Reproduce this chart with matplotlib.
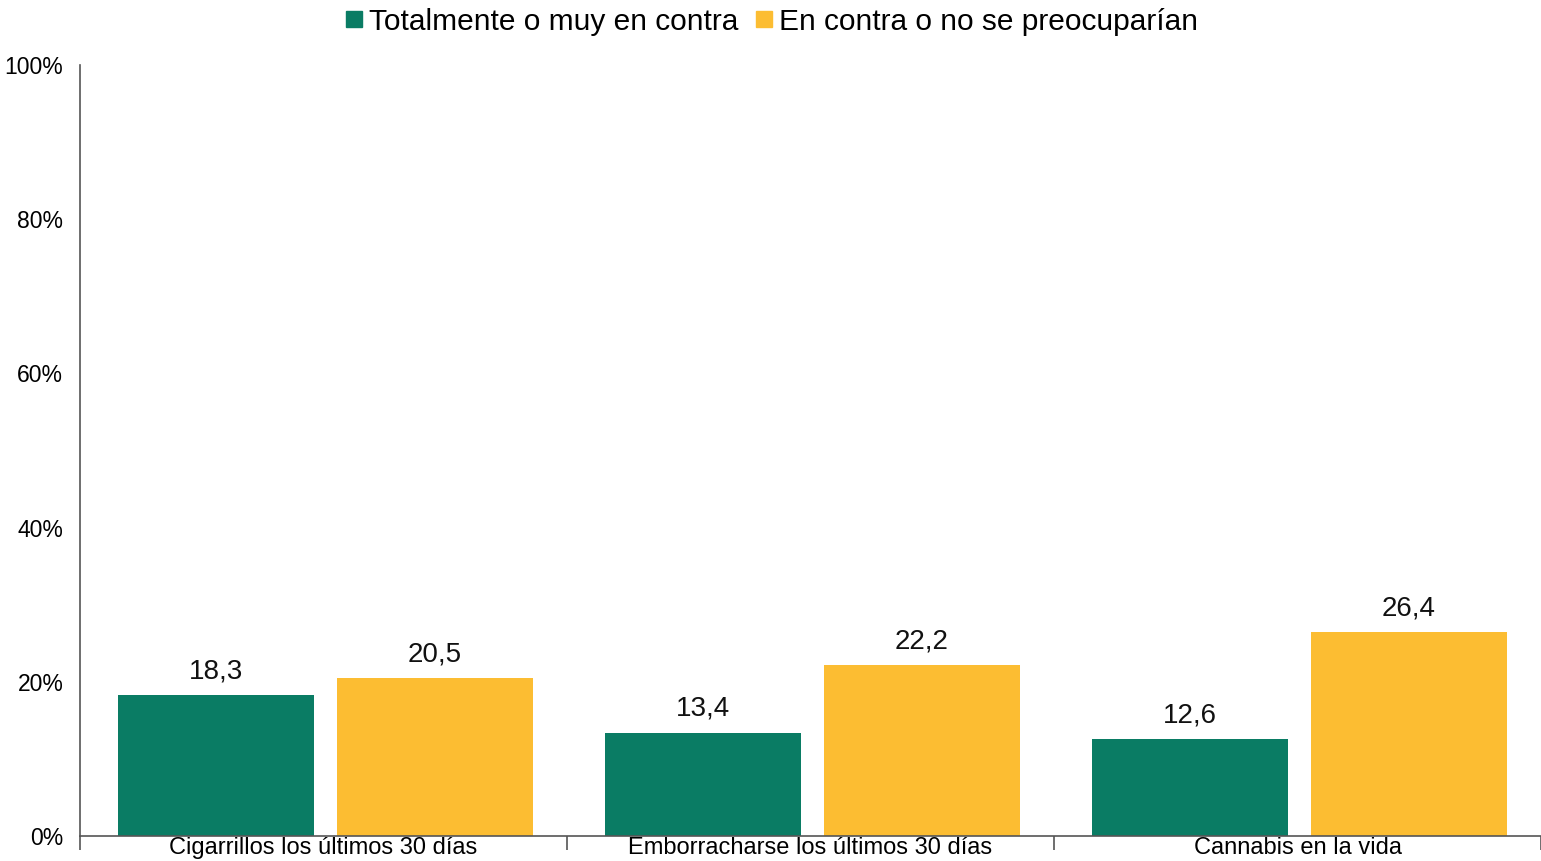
import matplotlib
matplotlib.use("Agg")
import matplotlib.pyplot as plt
from matplotlib.lines import Line2D
from matplotlib.ticker import FixedLocator, NullFormatter
import numpy as np

plt.rcParams['font.family'] = ['Liberation Sans', 'DejaVu Sans']

categories = ["Cigarrillos los últimos 30 días", "Emborracharse los últimos 30 días", "Cannabis en la vida"]
series_names = ["Totalmente o muy en contra", "En contra o no se preocuparían"]
green_vals = [18.3, 13.4, 12.6]
yellow_vals = [20.5, 22.2, 26.4]
yticks = [0, 20, 40, 60, 80, 100]
colors = ["#0a7c64", "#fcbd32"]

fig = plt.figure(figsize=(15.41, 8.61), dpi=100)
ax = fig.add_axes([80/1541, 1 - 836/861, 1461/1541, (836-65)/861])

x = np.arange(len(categories))
w = 0.4025
off = 0.2245
shift = 0.004
b1 = ax.bar(x - off + shift, green_vals, w, color=colors[0])
b2 = ax.bar(x + off + shift, yellow_vals, w, color=colors[1])

def fmt(v):
    return f"{v:.1f}".replace(".", ",")

for bars, vals in ((b1, green_vals), (b2, yellow_vals)):
    for r, v in zip(bars, vals):
        ax.text(r.get_x() + r.get_width()/2, v + 1.4, fmt(v), ha='center', va='bottom', fontsize=20, color='#111111')

ax.set_xlim(-0.5, 2.5)
ax.set_ylim(0, 100)
ax.set_yticks(yticks)
ax.set_yticklabels([f"{t}%" for t in yticks], fontsize=16.5)
ax.tick_params(axis='y', length=0, pad=12)
ax.set_xticks(x)
ax.set_xticklabels(categories, fontsize=17)
ax.tick_params(axis='x', which='major', length=0, pad=1)
ax.xaxis.set_minor_locator(FixedLocator([-0.5, 0.5, 1.5, 2.5]))
ax.xaxis.set_minor_formatter(NullFormatter())
ax.tick_params(axis='x', which='minor', length=10, width=1.2, color='#555555', direction='out')

for s in ['top', 'right']:
    ax.spines[s].set_visible(False)
ax.spines['left'].set_color('#555555')
ax.spines['bottom'].set_color('#555555')
ax.spines['left'].set_linewidth(1.2)
ax.spines['bottom'].set_linewidth(1.2)

handles = [Line2D([0], [0], marker='s', linestyle='none', markersize=11, markerfacecolor=c, markeredgecolor=c) for c in colors]
fig.legend(handles, series_names, loc='upper center', bbox_to_anchor=(0.5, 1.005), ncol=2, frameon=False,
           fontsize=21.5, handletextpad=0.15, columnspacing=0.5, handlelength=0.7, borderaxespad=0.0)

fig.savefig("out.png", dpi=100)
